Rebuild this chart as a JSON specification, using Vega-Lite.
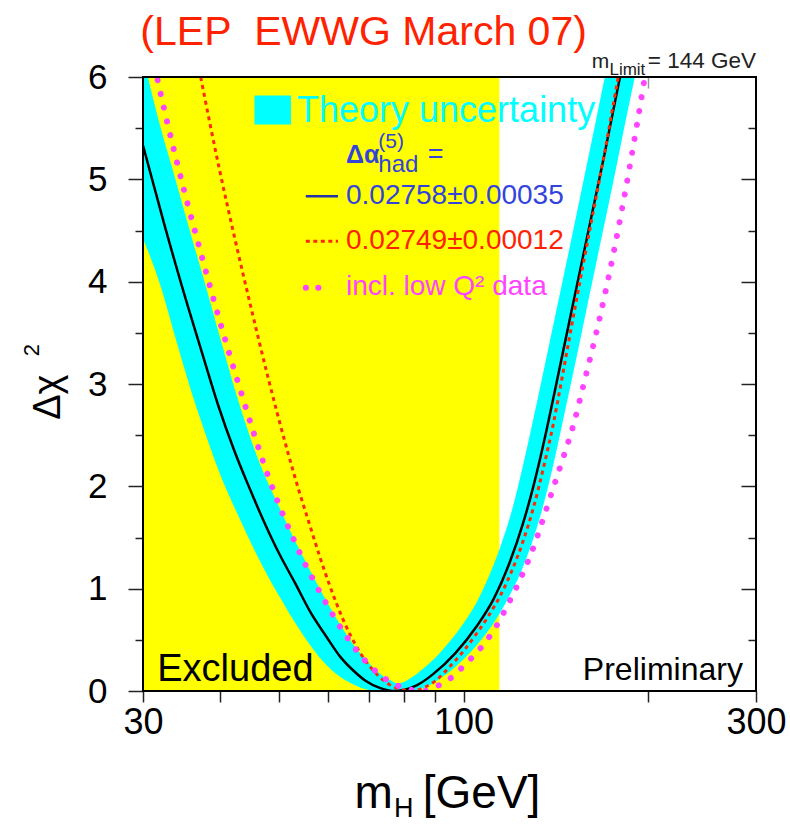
{
  "$schema": "https://vega.github.io/schema/vega-lite/v6.json",
  "width": 613,
  "height": 614,
  "autosize": "none",
  "padding": {"left": 143, "top": 77, "right": 34, "bottom": 133},
  "background": "white",
  "config": {"view": {"stroke": null}, "font": "Liberation Sans"},
  "resolve": {"axis": {"x": "independent", "y": "independent"}},
  "encoding": {
    "x": {"field": "m", "type": "quantitative", "scale": {"type": "log", "domain": [30, 300], "nice": false}, "axis": null},
    "y": {"field": "y", "type": "quantitative", "scale": {"domain": [0, 6], "nice": false, "zero": false}, "axis": null}
  },
  "datasets": {
    "excl": [{"m": 30, "m2": 114.4, "y": 0, "y2": 6}],
    "frame": [{"m": 30, "m2": 300, "y": 0, "y2": 6}],
    "band": [
      {"m": 30, "lo": 4.42, "hi": 6.2}, {"m": 32, "lo": 3.97, "hi": 5.52}, {"m": 34, "lo": 3.42, "hi": 4.97},
      {"m": 36, "lo": 2.92, "hi": 4.44}, {"m": 38, "lo": 2.5, "hi": 3.95}, {"m": 40, "lo": 2.13, "hi": 3.47},
      {"m": 43, "lo": 1.7, "hi": 2.82}, {"m": 46, "lo": 1.33, "hi": 2.3}, {"m": 50, "lo": 0.93, "hi": 1.8},
      {"m": 54, "lo": 0.6, "hi": 1.38}, {"m": 58, "lo": 0.34, "hi": 1.02}, {"m": 62, "lo": 0.165, "hi": 0.71},
      {"m": 66, "lo": 0.067, "hi": 0.46}, {"m": 70, "lo": 0.01, "hi": 0.275}, {"m": 72, "lo": 0, "hi": 0.2},
      {"m": 74, "lo": 0, "hi": 0.145}, {"m": 76, "lo": 0, "hi": 0.105}, {"m": 78, "lo": 0, "hi": 0.075},
      {"m": 80, "lo": 0, "hi": 0.088}, {"m": 82, "lo": 0, "hi": 0.126}, {"m": 86, "lo": 0.026, "hi": 0.221},
      {"m": 90, "lo": 0.092, "hi": 0.327}, {"m": 95, "lo": 0.19, "hi": 0.486}, {"m": 100, "lo": 0.31, "hi": 0.662},
      {"m": 105, "lo": 0.445, "hi": 0.866}, {"m": 110, "lo": 0.598, "hi": 1.122}, {"m": 115, "lo": 0.775, "hi": 1.42},
      {"m": 120, "lo": 0.98, "hi": 1.77}, {"m": 125, "lo": 1.21, "hi": 2.2}, {"m": 130, "lo": 1.49, "hi": 2.66},
      {"m": 135, "lo": 1.82, "hi": 3.12}, {"m": 140, "lo": 2.2, "hi": 3.57}, {"m": 145, "lo": 2.62, "hi": 4.0},
      {"m": 150, "lo": 3.03, "hi": 4.42}, {"m": 155, "lo": 3.43, "hi": 4.83}, {"m": 160, "lo": 3.83, "hi": 5.23},
      {"m": 165, "lo": 4.21, "hi": 5.62}, {"m": 170, "lo": 4.58, "hi": 6.0}, {"m": 175, "lo": 4.94, "hi": 6.36},
      {"m": 180, "lo": 5.3, "hi": 6.72}, {"m": 185, "lo": 5.65, "hi": 7.06}, {"m": 190, "lo": 5.98, "hi": 7.4},
      {"m": 195, "lo": 6.31, "hi": 7.7}
    ],
    "black": [
      {"m": 30, "y": 5.33}, {"m": 32.5, "y": 4.56}, {"m": 35.5, "y": 3.76}, {"m": 37.6, "y": 3.27}, {"m": 39.8, "y": 2.79},
      {"m": 42.2, "y": 2.36}, {"m": 44.7, "y": 1.99}, {"m": 47.3, "y": 1.65}, {"m": 50.1, "y": 1.336}, {"m": 53.1, "y": 1.056},
      {"m": 56.2, "y": 0.776}, {"m": 59.6, "y": 0.54}, {"m": 63.1, "y": 0.326}, {"m": 66.1, "y": 0.2}, {"m": 69.2, "y": 0.1},
      {"m": 73, "y": 0.03}, {"m": 75.5, "y": 0.006}, {"m": 77, "y": 0.0}, {"m": 80, "y": 0.011}, {"m": 84, "y": 0.057},
      {"m": 89, "y": 0.16}, {"m": 97, "y": 0.37}, {"m": 105, "y": 0.63}, {"m": 112, "y": 0.9}, {"m": 119, "y": 1.26},
      {"m": 125, "y": 1.635}, {"m": 130, "y": 2.0}, {"m": 136.5, "y": 2.54}, {"m": 141, "y": 2.94}, {"m": 150, "y": 3.71},
      {"m": 159, "y": 4.43}, {"m": 170, "y": 5.26}, {"m": 179, "y": 5.93}, {"m": 190, "y": 6.68}
    ],
    "red": [
      {"m": 36, "y": 6.46}, {"m": 37.2, "y": 6.02}, {"m": 40, "y": 5.09}, {"m": 42.4, "y": 4.41}, {"m": 45, "y": 3.75},
      {"m": 48, "y": 3.06}, {"m": 51.7, "y": 2.33}, {"m": 54, "y": 1.94}, {"m": 56, "y": 1.64}, {"m": 58.3, "y": 1.31},
      {"m": 60.5, "y": 1.03}, {"m": 63.6, "y": 0.7}, {"m": 67.8, "y": 0.375}, {"m": 72.2, "y": 0.163}, {"m": 76.9, "y": 0.04},
      {"m": 80.7, "y": 0.005}, {"m": 82, "y": 0.0}, {"m": 86, "y": 0.03}, {"m": 90, "y": 0.1}, {"m": 95, "y": 0.24},
      {"m": 100, "y": 0.39}, {"m": 105, "y": 0.56}, {"m": 110, "y": 0.74}, {"m": 115, "y": 0.94}, {"m": 120, "y": 1.18},
      {"m": 125, "y": 1.46}, {"m": 130, "y": 1.79}, {"m": 135, "y": 2.18}, {"m": 140, "y": 2.6}, {"m": 145, "y": 3.08},
      {"m": 150, "y": 3.56}, {"m": 160, "y": 4.45}, {"m": 170, "y": 5.27}, {"m": 180, "y": 6.1}, {"m": 190, "y": 6.88}
    ],
    "mag": [
      {"m": 31.0, "y": 6.24}, {"m": 31.8, "y": 5.93}, {"m": 34.3, "y": 5.1}, {"m": 37.2, "y": 4.3}, {"m": 40.0, "y": 3.62},
      {"m": 43.2, "y": 2.95}, {"m": 48.0, "y": 2.1}, {"m": 53.3, "y": 1.43}, {"m": 59.0, "y": 0.91}, {"m": 65.0, "y": 0.5},
      {"m": 69.0, "y": 0.3}, {"m": 73.0, "y": 0.16}, {"m": 77.0, "y": 0.07}, {"m": 81.0, "y": 0.02}, {"m": 86.0, "y": 0.0},
      {"m": 90, "y": 0.04}, {"m": 95, "y": 0.12}, {"m": 101, "y": 0.27}, {"m": 107, "y": 0.43}, {"m": 113, "y": 0.63},
      {"m": 118.5, "y": 0.86}, {"m": 124.3, "y": 1.12}, {"m": 130, "y": 1.4}, {"m": 135, "y": 1.69}, {"m": 140, "y": 1.98},
      {"m": 145.6, "y": 2.29}, {"m": 151.1, "y": 2.6}, {"m": 157.1, "y": 3.0}, {"m": 167, "y": 3.66}, {"m": 176.9, "y": 4.37},
      {"m": 187, "y": 5.15}, {"m": 196.6, "y": 5.92}, {"m": 200, "y": 6.2}
    ]
  },
  "layer": [
    {
      "data": {"name": "excl"},
      "mark": {"type": "rect", "color": "#ffff00"},
      "encoding": {
        "x": {"field": "m", "type": "quantitative", "scale": {"type": "log", "domain": [30, 300], "nice": false},
          "axis": {"orient": "bottom", "values": [30, 40, 50, 60, 70, 80, 90, 100, 200, 300], "format": "d",
            "labelExpr": "datum.value == 30 || datum.value == 100 || datum.value == 300 ? datum.label : ''",
            "tickSize": 11, "tickColor": "#222", "tickWidth": 1.5, "domain": false, "grid": false, "title": null,
            "labelFont": "Liberation Sans", "labelFontSize": 36, "labelColor": "black", "labelPadding": 3,
            "labelFlush": false, "labelOverlap": false, "labelBound": false}},
        "x2": {"field": "m2"},
        "y": {"field": "y", "type": "quantitative", "scale": {"domain": [0, 6], "nice": false, "zero": false},
          "axis": {"orient": "left", "values": [0, 1, 2, 3, 4, 5, 6], "tickSize": 15, "tickColor": "#222", "tickWidth": 1.5,
            "domain": false, "grid": false, "title": null, "labelFont": "Liberation Sans", "labelFontSize": 35,
            "labelColor": "black", "labelPadding": 21, "labelBaseline": "middle", "labelOverlap": false, "labelBound": false}},
        "y2": {"field": "y2"}
      }
    },
    {
      "data": {"name": "band"},
      "mark": {"type": "area", "color": "#00ffff", "opacity": 1, "clip": true, "interpolate": "monotone"},
      "encoding": {
        "y": {"field": "hi", "type": "quantitative", "scale": {"domain": [0, 6], "nice": false, "zero": false},
          "axis": {"orient": "left", "values": [0.5, 1.5, 2.5, 3.5, 4.5, 5.5], "tickSize": 8, "tickColor": "#222", "tickWidth": 1.5,
            "labels": false, "domain": false, "grid": false, "title": null}},
        "y2": {"field": "lo"}
      }
    },
    {
      "data": {"name": "black"},
      "mark": {"type": "line", "color": "black", "strokeWidth": 2.5, "clip": true, "interpolate": "monotone"},
      "encoding": {
        "x": {"field": "m", "type": "quantitative", "scale": {"type": "log", "domain": [30, 300], "nice": false},
          "axis": {"orient": "top", "values": [200], "tickSize": -11, "tickColor": "#999", "tickWidth": 1.5,
            "labels": false, "domain": false, "grid": false, "title": null}},
        "y": {"field": "y", "type": "quantitative", "scale": {"domain": [0, 6], "nice": false, "zero": false},
          "axis": {"orient": "right", "values": [1, 2, 3, 4, 5], "tickSize": -15, "tickColor": "#222", "tickWidth": 1.5,
            "labels": false, "domain": false, "grid": false, "title": null}}
      }
    },
    {
      "data": {"name": "red"},
      "mark": {"type": "line", "color": "#ff2a00", "strokeWidth": 3, "strokeDash": [4, 4], "clip": true, "interpolate": "monotone"},
      "encoding": {
        "y": {"field": "y", "type": "quantitative", "scale": {"domain": [0, 6], "nice": false, "zero": false},
          "axis": {"orient": "right", "values": [0.5, 1.5, 2.5, 3.5, 4.5, 5.5], "tickSize": -8, "tickColor": "#222", "tickWidth": 1.5,
            "labels": false, "domain": false, "grid": false, "title": null}}
      }
    },
    {
      "data": {"name": "mag"},
      "mark": {"type": "line", "color": "#ff44ff", "strokeWidth": 6, "strokeDash": [0.1, 14], "strokeCap": "round", "clip": true, "interpolate": "monotone"}
    },
    {
      "data": {"values": [{"m": 45.6, "m2": 52.3, "y": 5.537, "y2": 5.82}]},
      "mark": {"type": "rect", "color": "#00ffff"},
      "encoding": {"x2": {"field": "m2"}, "y2": {"field": "y2"}}
    },
    {
      "data": {"values": [{"m": 55.3, "y": 4.834}, {"m": 62.4, "y": 4.834}]},
      "mark": {"type": "line", "color": "#2233aa", "strokeWidth": 2.5}
    },
    {
      "data": {"values": [{"m": 55.3, "y": 4.395}, {"m": 62.4, "y": 4.395}]},
      "mark": {"type": "line", "color": "#ff2a00", "strokeWidth": 3, "strokeDash": [4, 3.5]}
    },
    {
      "data": {"values": [{"m": 55.3, "y": 3.94}, {"m": 60.6, "y": 3.94}]},
      "mark": {"type": "line", "color": "#ff44ff", "strokeWidth": 6, "strokeDash": [0.1, 12.4], "strokeCap": "round"}
    },
    {
      "data": {"values": [{"m": 29.7, "y": 6.313, "t": "(LEP\u00a0 EWWG March 07)"}]},
      "mark": {"type": "text", "align": "left", "baseline": "alphabetic", "font": "Liberation Sans", "fontSize": 41, "color": "#ff2200"},
      "encoding": {"text": {"field": "t"}}
    },
    {
      "data": {"values": [{"m": 161.8, "y": 6.09, "t": "m"}]},
      "mark": {"type": "text", "align": "left", "baseline": "alphabetic", "font": "Liberation Sans", "fontSize": 21, "color": "#222"},
      "encoding": {"text": {"field": "t"}}
    },
    {
      "data": {"values": [{"m": 173.0, "y": 6.02, "t": "Limit"}]},
      "mark": {"type": "text", "align": "left", "baseline": "alphabetic", "font": "Liberation Sans", "fontSize": 17, "color": "#222"},
      "encoding": {"text": {"field": "t"}}
    },
    {
      "data": {"values": [{"m": 300, "y": 6.09, "t": "= 144 GeV"}]},
      "mark": {"type": "text", "align": "right", "baseline": "alphabetic", "font": "Liberation Sans", "fontSize": 22.5, "color": "#222"},
      "encoding": {"text": {"field": "t"}}
    },
    {
      "data": {"values": [{"m": 53.5, "y": 5.557, "t": "Theory uncertainty"}]},
      "mark": {"type": "text", "align": "left", "baseline": "alphabetic", "font": "Liberation Sans", "fontSize": 36, "color": "#00ffff"},
      "encoding": {"text": {"field": "t"}}
    },
    {
      "data": {"values": [{"m": 64.3, "y": 5.16, "t": "Δα"}]},
      "mark": {"type": "text", "align": "left", "baseline": "alphabetic", "font": "Liberation Sans", "fontSize": 25, "fontWeight": "bold", "color": "#3344dd"},
      "encoding": {"text": {"field": "t"}}
    },
    {
      "data": {"values": [{"m": 87.4, "y": 5.16, "t": "="}]},
      "mark": {"type": "text", "align": "left", "baseline": "alphabetic", "font": "Liberation Sans", "fontSize": 27, "color": "#3344dd"},
      "encoding": {"text": {"field": "t"}}
    },
    {
      "data": {"values": [{"m": 72.6, "y": 5.303, "t": "(5)"}]},
      "mark": {"type": "text", "align": "left", "baseline": "alphabetic", "font": "Liberation Sans", "fontSize": 21, "color": "#3344dd"},
      "encoding": {"text": {"field": "t"}}
    },
    {
      "data": {"values": [{"m": 72.6, "y": 5.068, "t": "had"}]},
      "mark": {"type": "text", "align": "left", "baseline": "alphabetic", "font": "Liberation Sans", "fontSize": 24, "color": "#3344dd"},
      "encoding": {"text": {"field": "t"}}
    },
    {
      "data": {"values": [{"m": 64.3, "y": 4.834, "t": "0.02758±0.00035"}]},
      "mark": {"type": "text", "align": "left", "baseline": "middle", "font": "Liberation Sans", "fontSize": 28, "color": "#3344dd"},
      "encoding": {"text": {"field": "t"}}
    },
    {
      "data": {"values": [{"m": 64.3, "y": 4.395, "t": "0.02749±0.00012"}]},
      "mark": {"type": "text", "align": "left", "baseline": "middle", "font": "Liberation Sans", "fontSize": 28, "color": "#ff2200"},
      "encoding": {"text": {"field": "t"}}
    },
    {
      "data": {"values": [{"m": 64.3, "y": 3.945, "t": "incl. low Q² data"}]},
      "mark": {"type": "text", "align": "left", "baseline": "middle", "font": "Liberation Sans", "fontSize": 28, "color": "#ff44ff"},
      "encoding": {"text": {"field": "t"}}
    },
    {
      "data": {"values": [{"m": 31.65, "y": 0.098, "t": "Excluded"}]},
      "mark": {"type": "text", "align": "left", "baseline": "alphabetic", "font": "Liberation Sans", "fontSize": 38, "color": "black"},
      "encoding": {"text": {"field": "t"}}
    },
    {
      "data": {"values": [{"m": 285.6, "y": 0.107, "t": "Preliminary"}]},
      "mark": {"type": "text", "align": "right", "baseline": "alphabetic", "font": "Liberation Sans", "fontSize": 32, "color": "black"},
      "encoding": {"text": {"field": "t"}}
    },
    {
      "data": {"values": [{"m": 66.4, "y": -1.143, "t": "m"}, {"m": 85.8, "y": -1.143, "t": "[GeV]"}]},
      "mark": {"type": "text", "align": "left", "baseline": "alphabetic", "font": "Liberation Sans", "fontSize": 46, "color": "black"},
      "encoding": {"text": {"field": "t"}}
    },
    {
      "data": {"values": [{"m": 77.0, "y": -1.235, "t": "H"}]},
      "mark": {"type": "text", "align": "left", "baseline": "alphabetic", "font": "Liberation Sans", "fontSize": 27, "color": "black"},
      "encoding": {"text": {"field": "t"}}
    },
    {
      "data": {"values": [{"m": 22.0, "y": 2.65, "t": "Δχ"}]},
      "mark": {"type": "text", "align": "left", "baseline": "alphabetic", "angle": 270, "font": "Liberation Sans", "fontSize": 38, "color": "black"},
      "encoding": {"text": {"field": "t"}}
    },
    {
      "data": {"values": [{"m": 20.27, "y": 3.27, "t": "2"}]},
      "mark": {"type": "text", "align": "left", "baseline": "alphabetic", "angle": 270, "font": "Liberation Sans", "fontSize": 22, "color": "black"},
      "encoding": {"text": {"field": "t"}}
    },
    {
      "data": {"name": "frame"},
      "mark": {"type": "rect", "fillOpacity": 0, "stroke": "black", "strokeWidth": 2},
      "encoding": {"x2": {"field": "m2"}, "y2": {"field": "y2"}}
    }
  ]
}
